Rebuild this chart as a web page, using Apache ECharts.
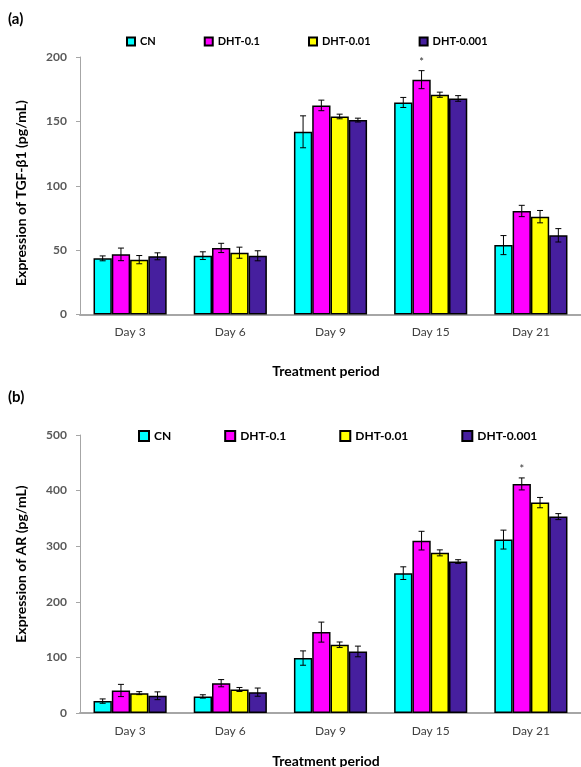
<!DOCTYPE html>
<html>
<head>
<meta charset="utf-8">
<script src="https://cdn.jsdelivr.net/npm/echarts@6/dist/echarts.min.js"></script>
<style>
html,body{margin:0;padding:0;background:#fff;overflow:hidden;}
#c{width:581px;height:767px;}
</style>
</head>
<body>
<div id="c"></div>
<script>
var categories = ['Day 3', 'Day 6', 'Day 9', 'Day 15', 'Day 21'];
var seriesNames = ['CN', 'DHT-0.1', 'DHT-0.01', 'DHT-0.001'];
var colors = ['#00ffff', '#ff00ff', '#ffff00', '#461f9e'];

// (a) TGF-β1
var tgfCN = [43.6, 45.7, 141.9, 164.7, 53.9];
var tgfCNErr = [1.9, 3.0, 12.4, 3.9, 7.4];
var tgfD01 = [46.7, 51.7, 162.4, 182.4, 80.4];
var tgfD01Err = [4.9, 3.6, 4.1, 7.0, 4.4];
var tgfD001 = [42.6, 48.0, 153.8, 170.7, 76.0];
var tgfD001Err = [3.2, 4.3, 1.8, 2.0, 4.8];
var tgfD0001 = [45.2, 45.6, 151.0, 167.8, 61.5];
var tgfD0001Err = [2.7, 3.9, 1.5, 2.2, 5.2];
var tgfStars = [[3, 1]]; // [category, series]

// (b) AR
var arCN = [21.4, 29.8, 98.8, 251.5, 311.9];
var arCNErr = [3.9, 3.0, 12.9, 11.4, 17.0];
var arD01 = [40.5, 53.6, 145.5, 310, 412];
var arD01Err = [11, 6.5, 18, 16.8, 10.8];
var arD001 = [35.7, 42.3, 122.7, 288, 378.4];
var arD001Err = [2.7, 3.6, 5, 5.4, 9.3];
var arD0001 = [31, 37.5, 110.7, 272.4, 353.2];
var arD0001Err = [7, 7.4, 9.6, 3.3, 5.4];
var arStars = [[4, 1]];

var yTicksA = {min: 0, max: 200, interval: 50};
var yTicksB = {min: 0, max: 500, interval: 100};

var CAT_GAP = 0.27;
var FONT = 'Lato, "Open Sans", sans-serif';

function errData(vals, errs, stars) {
  var out = [];
  for (var s = 0; s < vals.length; s++) {
    for (var c = 0; c < vals[s].length; c++) {
      var star = 0;
      stars.forEach(function (st) { if (st[0] === c && st[1] === s) star = 1; });
      out.push([c, s, vals[s][c], errs[s][c], star]);
    }
  }
  return out;
}

function renderErr(params, api) {
  var cat = api.value(0), s = api.value(1), v = api.value(2), e = api.value(3), star = api.value(4);
  var band = api.size([1, 0])[0];
  var bw = band * (1 - CAT_GAP) / 4;
  var x = api.coord([cat, 0])[0] + (s - 1.5) * bw;
  var yT = api.coord([cat, v + e])[1];
  var yB = api.coord([cat, v - e])[1];
  var cap = 3;
  var st = {stroke: '#000', lineWidth: 1};
  var ch = [
    {type: 'line', shape: {x1: x, y1: yT, x2: x, y2: yB}, style: st},
    {type: 'line', shape: {x1: x - cap, y1: yT, x2: x + cap, y2: yT}, style: st},
    {type: 'line', shape: {x1: x - cap, y1: yB, x2: x + cap, y2: yB}, style: st}
  ];
  if (star) {
    ch.push({type: 'text', style: {text: '*', x: x, y: yT - 3, textAlign: 'center', textVerticalAlign: 'bottom', fontSize: 11, fill: '#333', fontFamily: FONT}});
  }
  return {type: 'group', children: ch};
}

function barSeries(name, data, idx, axisIdx) {
  return {
    type: 'bar', name: name, data: data,
    xAxisIndex: axisIdx, yAxisIndex: axisIdx,
    barGap: '0%', barCategoryGap: (CAT_GAP * 100) + '%',
    itemStyle: {color: colors[idx], borderColor: '#000', borderWidth: 1.5},
    emphasis: {disabled: true},
    z: 2
  };
}

function xAxis(gi) {
  return {
    type: 'category', gridIndex: gi, data: categories,
    axisLine: {lineStyle: {color: '#a6a6a6', width: 2}},
    axisTick: {show: false},
    axisLabel: {color: '#404040', fontSize: 12, fontFamily: FONT, margin: 12}
  };
}
function yAxis(gi, t) {
  return {
    type: 'value', gridIndex: gi, min: t.min, max: t.max, interval: t.interval,
    splitLine: {show: false},
    axisLine: {show: true, lineStyle: {color: '#a6a6a6', width: 1}},
    axisTick: {show: true, length: 4, lineStyle: {color: '#a6a6a6'}},
    axisLabel: {color: '#595959', fontSize: 12, fontWeight: 'bold', fontFamily: FONT, margin: 13}
  };
}

var chart = echarts.init(document.getElementById('c'), null, {renderer: 'canvas'});
var option = {
  backgroundColor: '#fff',
  animation: false,
  textStyle: {fontFamily: FONT},
  grid: [
    {left: 80, right: -11, top: 57, height: 257.5},
    {left: 80, right: -2, top: 435, height: 278}
  ],
  xAxis: [xAxis(0), xAxis(1)],
  yAxis: [yAxis(0, yTicksA), yAxis(1, yTicksB)],
  legend: [
    {left: 126, top: 36, padding: 0, itemWidth: 8, itemHeight: 8, itemGap: 48, icon: 'rect', data: seriesNames,
     textStyle: {fontSize: 11, fontWeight: 'bold', color: '#000', fontFamily: FONT}},
    {left: 138, top: 430, padding: 0, itemWidth: 10, itemHeight: 10, itemGap: 53, icon: 'rect', data: seriesNames,
     textStyle: {fontSize: 12, fontWeight: 'bold', color: '#000', fontFamily: FONT}}
  ],
  graphic: [
    {type: 'text', left: 8, top: 12, style: {text: '(a)', fontSize: 15, fontWeight: 'bold', fill: '#000', fontFamily: FONT}},
    {type: 'text', left: 8, top: 390, style: {text: '(b)', fontSize: 15, fontWeight: 'bold', fill: '#000', fontFamily: FONT}},
    {type: 'text', x: 21, y: 193, rotation: Math.PI / 2, style: {text: 'Expression of TGF-β1 (pg/mL)', textAlign: 'center', textVerticalAlign: 'middle', fontSize: 14, fontWeight: 'bold', fill: '#000', fontFamily: FONT}},
    {type: 'text', x: 21, y: 564, rotation: Math.PI / 2, style: {text: 'Expression of AR (pg/mL)', textAlign: 'center', textVerticalAlign: 'middle', fontSize: 14, fontWeight: 'bold', fill: '#000', fontFamily: FONT}},
    {type: 'text', x: 326, y: 371, style: {text: 'Treatment period', textAlign: 'center', textVerticalAlign: 'middle', fontSize: 14, fontWeight: 'bold', fill: '#000', fontFamily: FONT}},
    {type: 'text', x: 326, y: 761, style: {text: 'Treatment period', textAlign: 'center', textVerticalAlign: 'middle', fontSize: 14, fontWeight: 'bold', fill: '#000', fontFamily: FONT}}
  ],
  series: [
    barSeries('CN', tgfCN, 0, 0),
    barSeries('DHT-0.1', tgfD01, 1, 0),
    barSeries('DHT-0.01', tgfD001, 2, 0),
    barSeries('DHT-0.001', tgfD0001, 3, 0),
    barSeries('CN', arCN, 0, 1),
    barSeries('DHT-0.1', arD01, 1, 1),
    barSeries('DHT-0.01', arD001, 2, 1),
    barSeries('DHT-0.001', arD0001, 3, 1),
    {type: 'custom', name: 'errA', xAxisIndex: 0, yAxisIndex: 0, renderItem: renderErr, z: 5,
     encode: {x: 0, y: 2}, silent: true,
     data: errData([tgfCN, tgfD01, tgfD001, tgfD0001], [tgfCNErr, tgfD01Err, tgfD001Err, tgfD0001Err], tgfStars)},
    {type: 'custom', name: 'errB', xAxisIndex: 1, yAxisIndex: 1, renderItem: renderErr, z: 5,
     encode: {x: 0, y: 2}, silent: true,
     data: errData([arCN, arD01, arD001, arD0001], [arCNErr, arD01Err, arD001Err, arD0001Err], arStars)}
  ]
};
chart.setOption(option);
</script>
</body>
</html>
